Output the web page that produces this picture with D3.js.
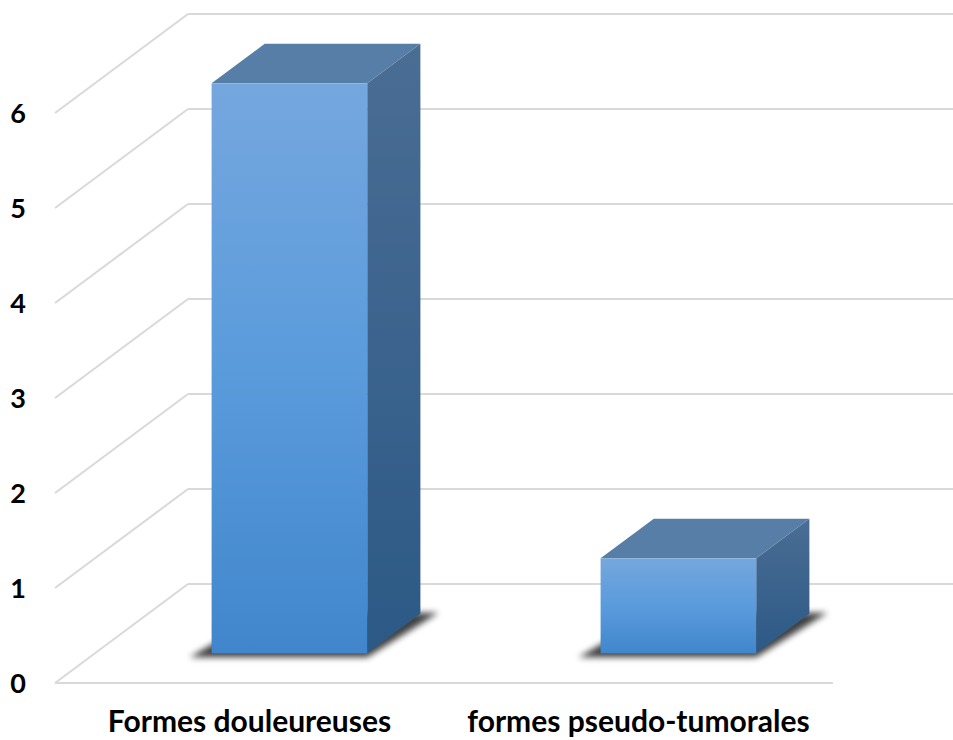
<!DOCTYPE html>
<html>
<head>
<meta charset="utf-8">
<script src="https://cdn.jsdelivr.net/npm/d3@7"></script>
<style>
  body { margin: 0; background: #fff; }
  text { font-family: Lato, "Open Sans", sans-serif; font-weight: bold; fill: #000; }
</style>
</head>
<body>
<svg id="chart" width="953" height="740"></svg>
<script>
var categories = ['Formes douleureuses', 'formes pseudo-tumorales'];
var values = [6, 1];
var tickValues = [0, 1, 2, 3, 4, 5, 6];

var width = 953, height = 740;
// 3D depth offset (front plane -> back wall)
var depthX = 133, depthY = -99;
var barDepth0 = 0.3, barDepth1 = 0.7;

var svg = d3.select('#chart');

var x = d3.scaleBand()
          .domain(categories)
          .range([55, 833])
          .paddingInner(0.6)
          .paddingOuter(0.3);

var y = d3.scaleLinear()
          .domain([0, 6])
          .range([683, 113]);

var proj = function (px, v, depth) {
  return [px + depth * depthX, y(v) + depth * depthY];
};

var defs = svg.append('defs');

var front = defs.append('linearGradient')
                .attr('id', 'frontGrad')
                .attr('x1', 0).attr('y1', 0).attr('x2', 0).attr('y2', 1);
front.append('stop').attr('offset', '0%').attr('stop-color', '#75a7de');
front.append('stop').attr('offset', '50%').attr('stop-color', '#5a9bdc');
front.append('stop').attr('offset', '100%').attr('stop-color', '#4186cc');

var side = defs.append('linearGradient')
               .attr('id', 'sideGrad')
               .attr('x1', 0).attr('y1', 0).attr('x2', 0).attr('y2', 1);
side.append('stop').attr('offset', '0%').attr('stop-color', '#4a6d94');
side.append('stop').attr('offset', '100%').attr('stop-color', '#2c5986');

defs.append('filter')
    .attr('id', 'shadowBlur')
    .attr('x', '-20%').attr('y', '-50%').attr('width', '140%').attr('height', '200%')
    .append('feGaussianBlur')
    .attr('stdDeviation', 3);

// gridlines: side wall diagonals + back wall horizontals
var grid = svg.append('g');
tickValues.forEach(function (v) {
  var a = proj(55, v, 0), b = proj(55, v, 1), c = proj(833, v, 1);
  grid.append('line')
      .attr('x1', a[0]).attr('y1', a[1]).attr('x2', b[0]).attr('y2', b[1])
      .attr('stroke', '#d9d9d9').attr('stroke-width', 2);
  grid.append('line')
      .attr('x1', b[0]).attr('y1', b[1]).attr('x2', c[0]).attr('y2', c[1])
      .attr('stroke', '#d9d9d9').attr('stroke-width', 2);
});
// floor front edge
grid.append('line')
    .attr('x1', 55).attr('y1', y(0)).attr('x2', 833).attr('y2', y(0))
    .attr('stroke', '#d9d9d9').attr('stroke-width', 2);

// tick labels
svg.append('g')
   .selectAll('text')
   .data(tickValues)
   .join('text')
   .attr('x', 18)
   .attr('y', function (d) { return y(d); })
   .attr('dy', '0.36em')
   .attr('text-anchor', 'middle')
   .style('font-size', '27px')
   .text(function (d) { return d; });

// bars
var bars = svg.append('g')
              .selectAll('g')
              .data(categories.map(function (c, i) { return { name: c, value: values[i] }; }))
              .join('g');

var pts = function (arr) {
  return arr.map(function (p) { return p.join(','); }).join(' ');
};

// shadow under each bar
bars.append('polygon')
    .attr('points', function (d) {
      var x0 = x(d.name), x1 = x(d.name) + x.bandwidth();
      var fl = proj(x0, 0, barDepth0), fr = proj(x1, 0, barDepth0),
          br = proj(x1, 0, barDepth1), bl = proj(x0, 0, barDepth1);
      return pts([[fl[0] - 22, fl[1] + 4], [fr[0], fr[1] + 4], [br[0] + 18, br[1] - 1], [bl[0], bl[1]]]);
    })
    .attr('fill', '#000')
    .attr('opacity', 0.75)
    .attr('filter', 'url(#shadowBlur)');

// side face
bars.append('polygon')
    .attr('points', function (d) {
      var x1 = x(d.name) + x.bandwidth();
      return pts([proj(x1, 0, barDepth0), proj(x1, d.value, barDepth0),
                  proj(x1, d.value, barDepth1), proj(x1, 0, barDepth1)]);
    })
    .attr('fill', 'url(#sideGrad)');

// top face
bars.append('polygon')
    .attr('points', function (d) {
      var x0 = x(d.name), x1 = x(d.name) + x.bandwidth();
      return pts([proj(x0, d.value, barDepth0), proj(x1, d.value, barDepth0),
                  proj(x1, d.value, barDepth1), proj(x0, d.value, barDepth1)]);
    })
    .attr('fill', '#577ea7');

// front face
bars.append('rect')
    .attr('x', function (d) { return proj(x(d.name), 0, barDepth0)[0]; })
    .attr('y', function (d) { return proj(0, d.value, barDepth0)[1]; })
    .attr('width', x.bandwidth())
    .attr('height', function (d) { return y(0) - y(d.value); })
    .attr('fill', 'url(#frontGrad)');

// category labels
svg.append('g')
   .selectAll('text')
   .data(categories)
   .join('text')
   .attr('x', function (d) { return x(d) + x.bandwidth() / 2; })
   .attr('y', 732)
   .attr('text-anchor', 'middle')
   .style('font-size', '30px')
   .text(function (d) { return d; });
</script>
</body>
</html>
